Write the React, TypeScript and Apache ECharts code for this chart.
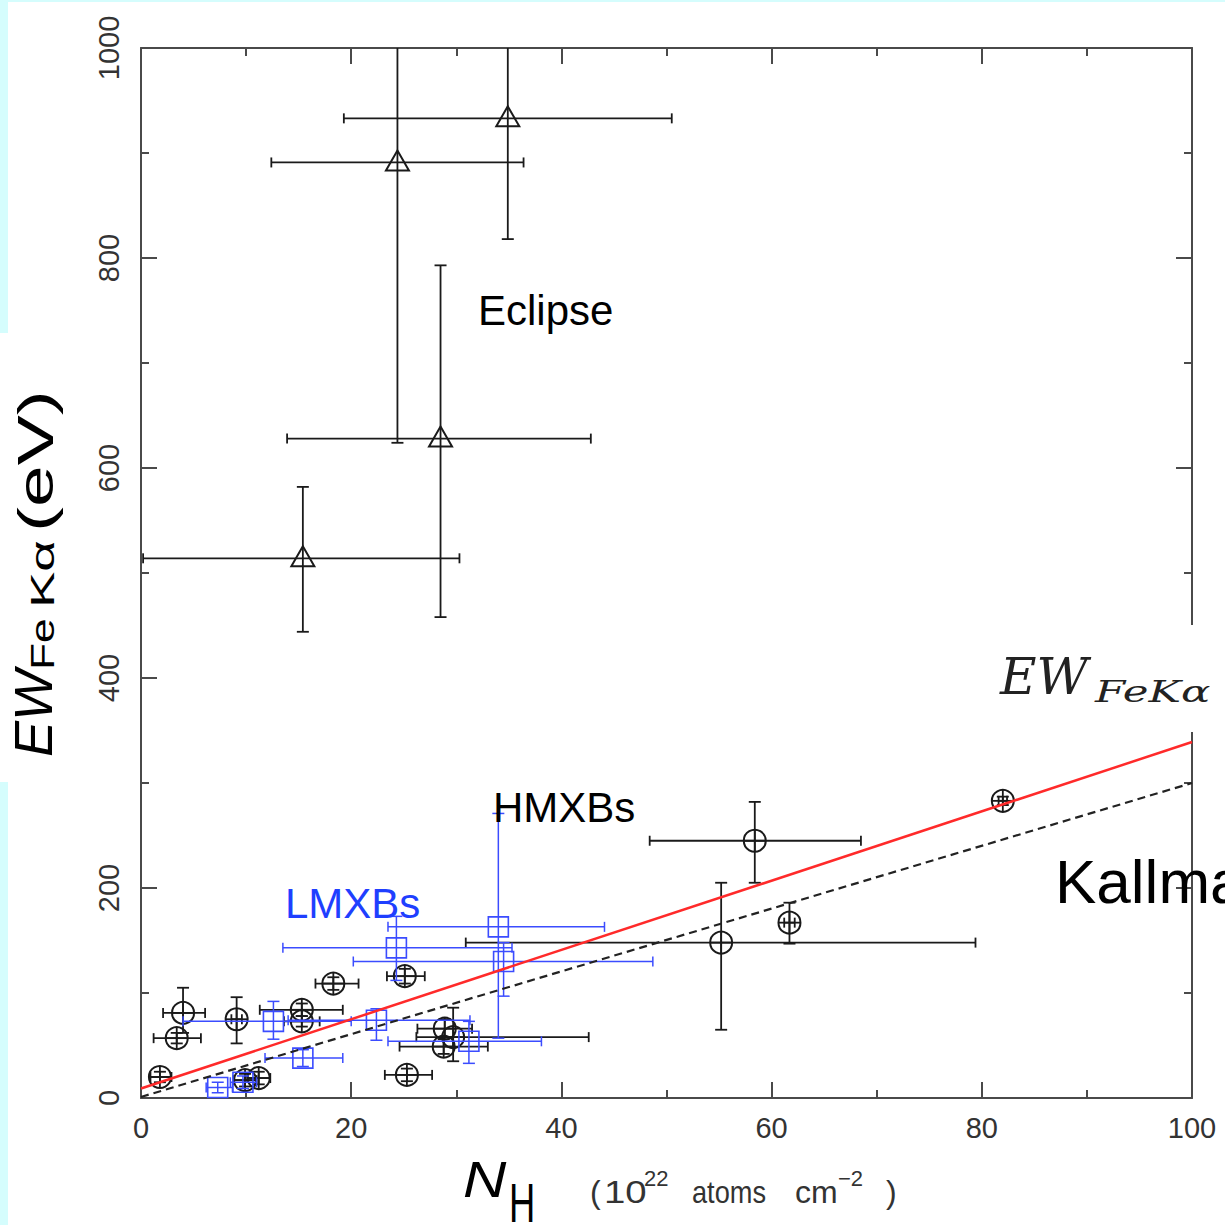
import React, { useEffect, useRef } from "react";
import * as echarts from "echarts";

// ---------- data ----------
// HMXBs (black circles): N_H, EW, N_H low, N_H high, EW low, EW high
const hmxbX = [1.8, 3.4, 4.0, 9.1, 9.9, 11.2, 15.3, 15.3, 18.3, 25.1, 25.3, 28.9, 29.7, 28.8, 55.2, 58.4, 61.7, 82.0];
const hmxbY = [20, 57, 81, 75, 17, 19, 84, 73, 109, 116, 22, 66, 58, 49, 148, 245, 167, 283];
const hmxbXLo = [0.9, 1.2, 2.1, 8.6, 8.8, 10.1, 11.3, 13.6, 16.6, 23.4, 23.2, 26.3, 26.2, 24.6, 30.9, 48.4, 61.2, 81.6];
const hmxbXHi = [2.9, 5.7, 6.1, 9.6, 11.0, 12.3, 19.2, 17.0, 20.7, 27.0, 27.7, 31.5, 42.6, 33.0, 79.4, 68.5, 62.2, 82.4];
const hmxbYLo = [15, 52, 62, 52, 11, 13, 78, 68, 103, 109, 16, 58, 35, 42, 65, 205, 147, 279];
const hmxbYHi = [25, 62, 105, 96, 23, 25, 90, 78, 115, 123, 28, 75, 86, 56, 205, 282, 186, 287];

// LMXBs (blue squares)
const lmxbX = [34.0, 34.5, 24.3, 22.4, 15.4, 12.6, 31.2, 7.3, 9.7];
const lmxbY = [163, 130, 143, 74, 38, 73, 54, 10, 15];
const lmxbXLo = [23.5, 20.2, 13.5, 14.0, 11.8, 4.0, 23.5, 6.2, 8.5];
const lmxbXHi = [44.1, 48.7, 35.3, 31.3, 19.2, 20.0, 38.1, 8.7, 11.0];
const lmxbYLo = [57, 97, 112, 55, 30, 56, 33, 5, 9];
const lmxbYHi = [271, 148, 173, 85, 46, 92, 73, 15, 21];

// Eclipse (black triangles)
const eclX = [15.4, 28.5, 24.4, 34.9];
const eclY = [514, 628, 891, 933];
const eclXLo = [0.2, 13.9, 12.4, 19.3];
const eclXHi = [30.3, 42.8, 36.4, 50.5];
const eclYLo = [444, 458, 624, 818];
const eclYHi = [582, 793, 1060, 1060];

// fit lines
const fitX = [0, 100];
const redFitY = [9, 339];
const kallmanY = [1, 300];

// axis ticks
const xMin = 0, xMax = 100, xStep = 20;
const yMin = 0, yMax = 1000, yStep = 200;

const build = (x: number[], y: number[], xl: number[], xh: number[], yl: number[], yh: number[]) =>
  x.map((v, i) => [v, y[i], xl[i], xh[i], yl[i], yh[i]]);

const makeRender = (kind: string, color: string, lw: number) => (params: any, api: any) => {
  const cs = params.coordSys;
  const bx0 = cs.x, bx1 = cs.x + cs.width, by0 = cs.y, by1 = cs.y + cs.height;
  const c = api.coord([api.value(0), api.value(1)]);
  const xl = api.coord([api.value(2), api.value(1)])[0];
  const xh = api.coord([api.value(3), api.value(1)])[0];
  const yl = api.coord([api.value(0), api.value(4)])[1];
  const yh = api.coord([api.value(0), api.value(5)])[1];
  const clx = (p: number) => Math.min(bx1, Math.max(bx0, p));
  const cly = (p: number) => Math.min(by1, Math.max(by0, p));
  const style = { stroke: color, lineWidth: lw, fill: "none" };
  const children: any[] = [];
  const ln = (a: number, b: number, d: number, e: number) =>
    children.push({ type: "line", shape: { x1: a, y1: b, x2: d, y2: e }, style });
  const XL = clx(xl), XH = clx(xh), YL = cly(yl), YH = cly(yh);
  ln(XL, c[1], XH, c[1]);
  if (XL === xl) ln(xl, c[1] - 5, xl, c[1] + 5);
  if (XH === xh) ln(xh, c[1] - 5, xh, c[1] + 5);
  ln(c[0], YL, c[0], YH);
  if (YL === yl) ln(c[0] - 6, yl, c[0] + 6, yl);
  if (YH === yh) ln(c[0] - 6, yh, c[0] + 6, yh);
  const mstyle = { stroke: color, lineWidth: kind === "square" ? 1.6 : 2, fill: "none" };
  if (kind === "circle") {
    const r = 11;
    children.push({ type: "circle", shape: { cx: c[0], cy: c[1], r }, style: mstyle });
    ln(c[0] - r, c[1], c[0] + r, c[1]);
    ln(c[0], c[1] - r, c[0], c[1] + r);
  } else if (kind === "triangle") {
    children.push({
      type: "polygon",
      shape: { points: [[c[0], c[1] - 12], [c[0] - 11.5, c[1] + 8], [c[0] + 11.5, c[1] + 8]] },
      style: mstyle,
    });
  } else {
    children.push({ type: "rect", shape: { x: c[0] - 10, y: c[1] - 10, width: 20, height: 20 }, style: mstyle });
  }
  return { type: "group", children };
};

const axisCol = "#4a4a4a";
const labelFont = "Liberation Sans";
const cyan = "#d5fdfd";

const mkX = (pos: string, showLabel: boolean) => ({
  type: "value",
  min: xMin,
  max: xMax,
  interval: xStep,
  position: pos,
  axisLine: { show: true, onZero: false, lineStyle: { color: axisCol, width: 2 } },
  axisTick: { show: true, inside: true, length: 16, lineStyle: { color: axisCol, width: 2 } },
  minorTick: { show: true, splitNumber: 2, length: 8, lineStyle: { color: axisCol, width: 2 } },
  splitLine: { show: false },
  minorSplitLine: { show: false },
  axisLabel: {
    show: showLabel,
    margin: 15,
    fontSize: 29,
    color: "#333",
    fontFamily: labelFont,
    formatter: (v: number) => String(v),
  },
});

const mkY = (pos: string, showLabel: boolean) => ({
  type: "value",
  min: yMin,
  max: yMax,
  interval: yStep,
  position: pos,
  axisLine: { show: true, onZero: false, lineStyle: { color: axisCol, width: 2 } },
  axisTick: { show: true, inside: true, length: 16, lineStyle: { color: axisCol, width: 2 } },
  minorTick: { show: true, splitNumber: 2, length: 8, lineStyle: { color: axisCol, width: 2 } },
  splitLine: { show: false },
  minorSplitLine: { show: false },
  axisLabel: {
    show: showLabel,
    rotate: 90,
    margin: 18,
    fontSize: 29,
    color: "#333",
    fontFamily: labelFont,
    formatter: (v: number) => String(v),
  },
});

const txt = (text: string, x: number, y: number, st: any, extra: any = {}) => ({
  type: "text",
  x,
  y,
  z: 100,
  silent: true,
  ...extra,
  style: { text, fill: "#000", align: "left", verticalAlign: "middle", fontFamily: labelFont, ...st },
});

export default function App() {
  const ref = useRef<HTMLDivElement>(null);
  useEffect(() => {
    if (!ref.current) return;
    const chart = echarts.init(ref.current, null, { renderer: "svg" });
    const R = Math.PI / 2;
    chart.setOption({
      animation: false,
      backgroundColor: "#ffffff",
      grid: { left: 141, right: 33, top: 48, bottom: 127, containLabel: false },
      xAxis: [mkX("bottom", true), mkX("top", false)],
      yAxis: [mkY("left", true), mkY("right", false)],
      series: [
        {
          type: "custom",
          renderItem: makeRender("triangle", "#1a1a1a", 1.8),
          data: build(eclX, eclY, eclXLo, eclXHi, eclYLo, eclYHi),
          encode: { x: 0, y: 1 },
          z: 2,
          silent: true,
        },
        {
          type: "custom",
          renderItem: makeRender("circle", "#1a1a1a", 1.8),
          data: build(hmxbX, hmxbY, hmxbXLo, hmxbXHi, hmxbYLo, hmxbYHi),
          encode: { x: 0, y: 1 },
          z: 2,
          silent: true,
        },
        {
          type: "custom",
          renderItem: makeRender("square", "#3b4cff", 1.5),
          data: build(lmxbX, lmxbY, lmxbXLo, lmxbXHi, lmxbYLo, lmxbYHi),
          encode: { x: 0, y: 1 },
          z: 3,
          silent: true,
        },
        {
          type: "line",
          data: fitX.map((x, i) => [x, kallmanY[i]]),
          symbol: "none",
          lineStyle: { color: "#222", width: 2.2, type: [8, 5] },
          z: 4,
          silent: true,
        },
        {
          type: "line",
          data: fitX.map((x, i) => [x, redFitY[i]]),
          symbol: "none",
          lineStyle: { color: "#ff2a2a", width: 2.5 },
          z: 5,
          silent: true,
        },
      ],
      graphic: [
        { type: "rect", shape: { x: 0, y: 0, width: 1225, height: 2 }, style: { fill: cyan }, silent: true },
        { type: "rect", shape: { x: 0, y: 0, width: 8, height: 333 }, style: { fill: cyan }, silent: true },
        { type: "rect", shape: { x: 0, y: 782, width: 8, height: 443 }, style: { fill: cyan }, silent: true },
        { type: "rect", shape: { x: 995, y: 625, width: 230, height: 107 }, style: { fill: "#ffffff" }, z: 99, silent: true },
        txt("Eclipse", 478, 310, { fontSize: 42 }),
        txt("HMXBs", 493, 807, { fontSize: 42 }),
        txt("LMXBs", 285, 903, { fontSize: 42, fill: "#1f3fff" }),
        txt("Kallman", 1055, 881, { fontSize: 62 }),
        txt("EW", 1000, 677, { fontSize: 50, fontStyle: "italic", fontFamily: "DejaVu Serif", fill: "#222" }),
        txt("FeKα", 1095, 692, { fontSize: 30, fontStyle: "italic", fontFamily: "DejaVu Serif", fill: "#222" }, { scaleX: 1.45 }),
        // y axis title
        txt("EW", 33, 757, { fontSize: 54, fontStyle: "italic" }, { rotation: R }),
        txt("Fe", 42, 670, { fontSize: 34 }, { rotation: R, scaleX: 1.3 }),
        txt("Kα", 42, 608, { fontSize: 34 }, { rotation: R, scaleX: 1.6 }),
        txt("(eV)", 35.5, 532, { fontSize: 50 }, { rotation: R, scaleX: 1.5 }),
        // x axis title
        txt("N", 463, 1180, { fontSize: 50, fontStyle: "italic" }, { scaleX: 1.2 }),
        txt("H", 509, 1202, { fontSize: 56 }, { scaleX: 0.65 }),
        txt("(", 590, 1192, { fontSize: 32, fill: "#333" }),
        txt("10", 604, 1192, { fontSize: 32, fill: "#333" }, { scaleX: 1.2 }),
        txt("22", 644, 1178, { fontSize: 22, fill: "#333" }),
        txt("atoms", 692, 1192, { fontSize: 32, fill: "#333" }, { scaleX: 0.85 }),
        txt("cm", 795, 1192, { fontSize: 32, fill: "#333" }),
        txt("−2", 838, 1178, { fontSize: 22, fill: "#333" }),
        txt(")", 886, 1192, { fontSize: 32, fill: "#333" }),
      ],
    });
    return () => chart.dispose();
  }, []);
  return (
    <div
      ref={ref}
      style={{ position: "absolute", left: 0, top: 0, width: 1225, height: 1225 }}
    />
  );
}
